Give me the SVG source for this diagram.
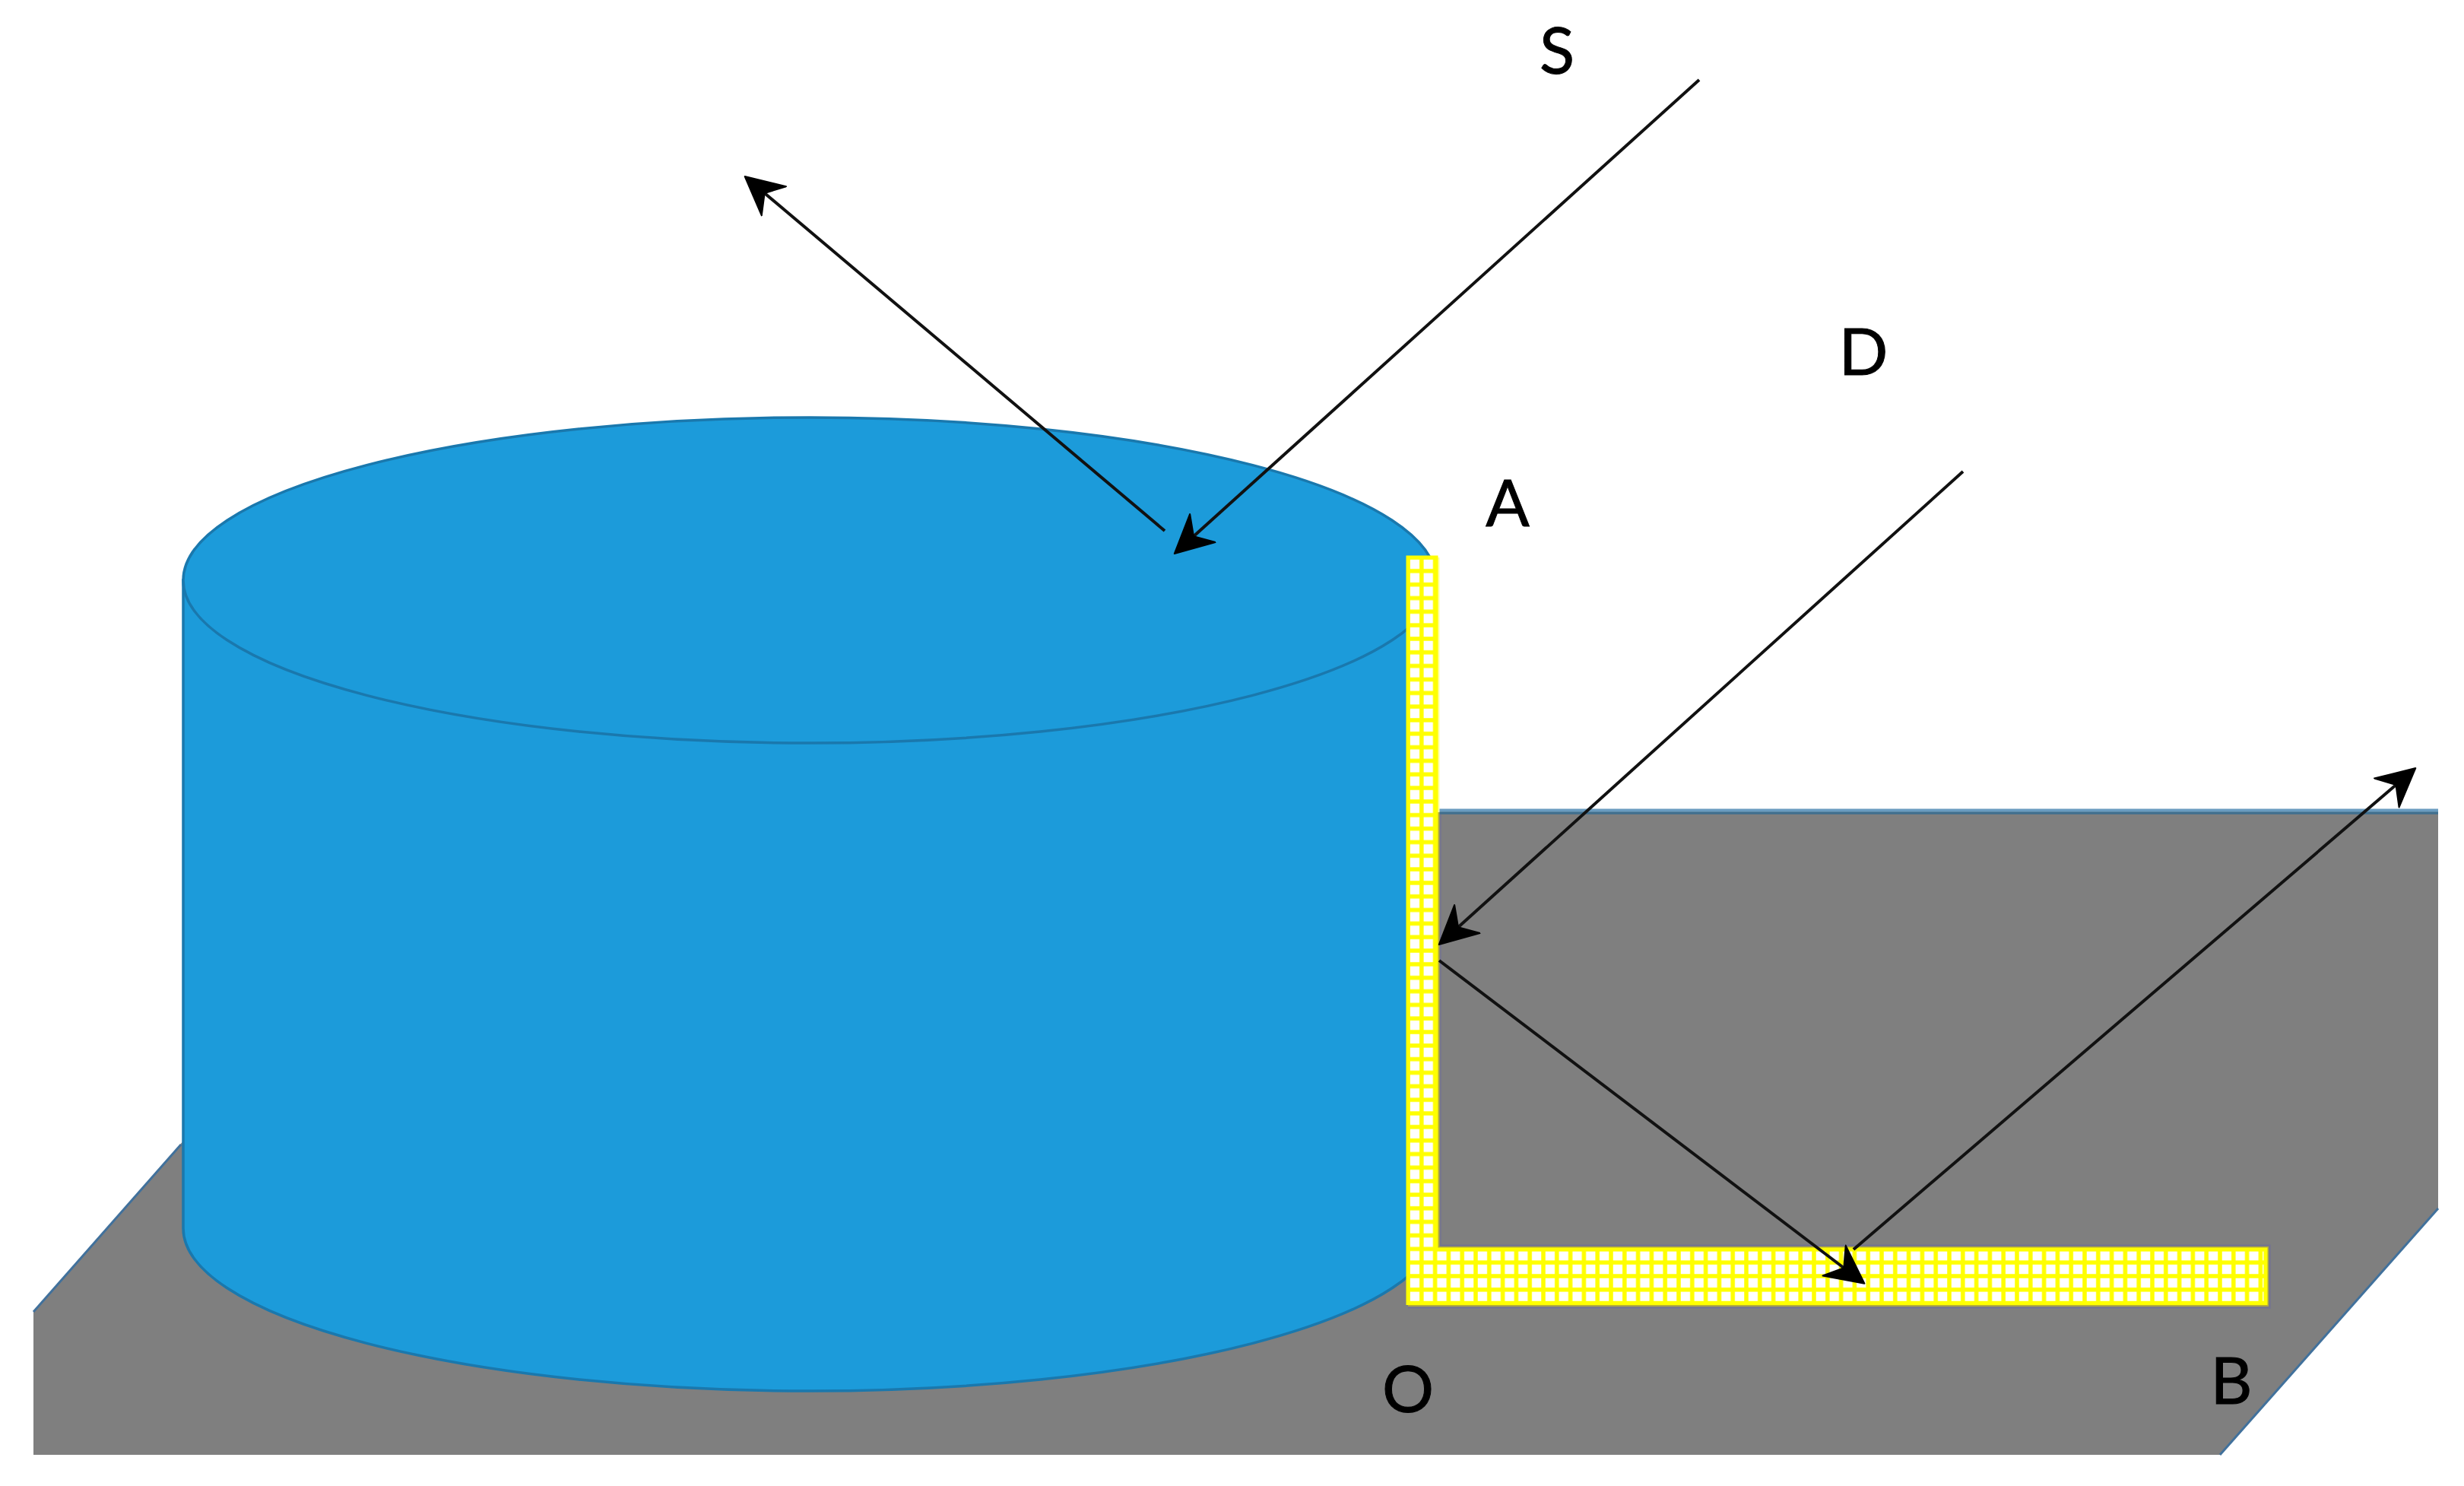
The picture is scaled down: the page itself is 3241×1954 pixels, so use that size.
<svg xmlns="http://www.w3.org/2000/svg" width="3241" height="1954" viewBox="0 0 3241 1954">
<style>
.lbl{font-family:"Lato","Liberation Sans",sans-serif;font-size:85px;fill:#000;stroke:#000;stroke-width:1;text-anchor:middle}
.arr{stroke:#111;stroke-width:4;fill:none;marker-end:url(#head)}
.cyl{fill:#1c9bda;stroke:#1a78ad;stroke-width:3.5}
</style>
<defs>
<marker id="head" markerUnits="userSpaceOnUse" markerWidth="56" markerHeight="60" viewBox="-1 -1 56 60" refX="47" refY="29" orient="auto">
<path d="M50,29 L0,4 L16,29 L0,54 Z" fill="#000" stroke="#000" stroke-width="2" stroke-linejoin="round"/>
</marker>
<pattern id="grid" patternUnits="userSpaceOnUse" x="1852" y="733" width="17.8" height="17.83">
<rect width="17.8" height="17.83" fill="#fff"/>
<path d="M0,0H17.8M0,17.83H17.8M0,0V17.83M17.8,0V17.83" stroke="#ff0" stroke-width="5.5"/>
</pattern>
</defs>
<rect width="3241" height="1954" fill="#fff"/>
<g id="ground">
<polygon points="44,1725 620,1068 3207,1068 3207,1589 2920,1913 44,1913" fill="#7f7f7f"/>
<path d="M44,1725 L238,1505" fill="none" stroke="#41719c" stroke-width="3"/>
<path d="M3207,1589 L2920,1913" fill="none" stroke="#41719c" stroke-width="3"/>
<path d="M1893,1065.5 H3207" fill="none" stroke="#6a9cc0" stroke-width="4"/>
<path d="M1893,1069 H3207" fill="none" stroke="#3f6f8f" stroke-width="3.5"/>
</g>
<g id="cylinder">
<path class="cyl" d="M241,763 V1615 A824,214 0 0 0 1889,1615 V763 Z"/>
<ellipse class="cyl" cx="1065" cy="763" rx="824" ry="214"/>
</g>
<g id="panel">
<path d="M1892,733 V1068" stroke="#ffffa0" stroke-width="3" fill="none"/>
<path d="M1894.5,1071 V1638 H2985.5 V1719.5 H1852" stroke="#76768c" stroke-width="3" fill="none"/>
<path d="M1892,1068 V1640.5 H2982.5 V1716.5 H1852" stroke="#b3ac3c" stroke-width="3" fill="none"/>
<path d="M1852,733 H1889 V1643 H2980 V1713.5 H1852 Z" fill="url(#grid)" stroke="#ff0" stroke-width="5"/>
</g>
<g id="connectors">
<line class="arr" x1="1532" y1="698" x2="982" y2="234"/>
<line class="arr" x1="2235" y1="105" x2="1547" y2="726"/>
<line class="arr" x1="2582" y1="620" x2="1895" y2="1240"/>
<line class="arr" x1="1893" y1="1263" x2="2450" y2="1686"/>
<line class="arr" x1="2438" y1="1643" x2="3175" y2="1012"/>
</g>
<g id="labels">
<text class="lbl" x="2048" y="97">S</text>
<text class="lbl" x="2451" y="493">D</text>
<text class="lbl" x="1983" y="692">A</text>
<text class="lbl" x="1852" y="1857">O</text>
<text class="lbl" x="2935" y="1846">B</text>
</g>
</svg>
